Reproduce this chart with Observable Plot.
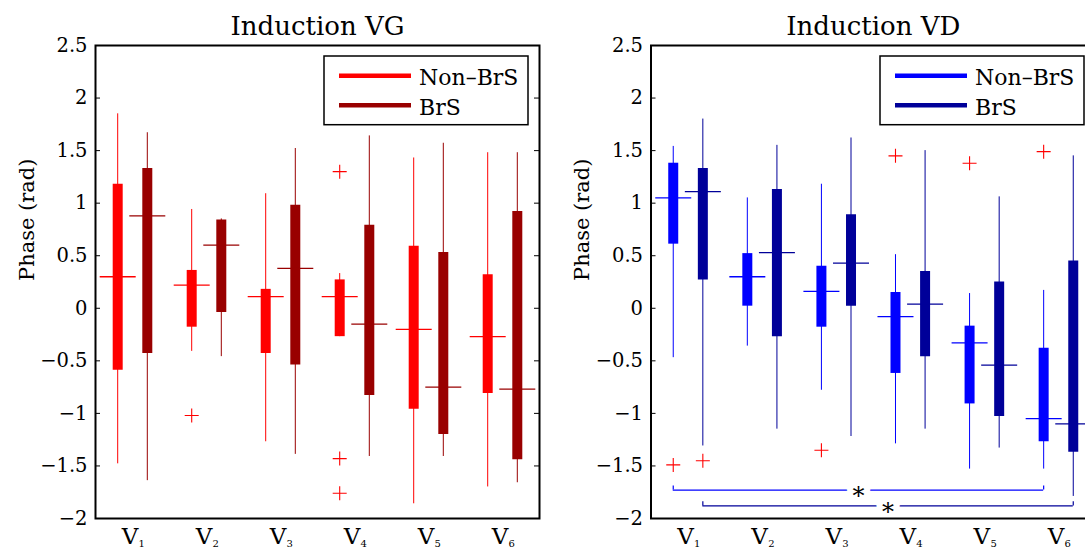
<!DOCTYPE html>
<html>
<head>
<meta charset="utf-8">
<script src="https://cdn.jsdelivr.net/npm/d3@7"></script>
<script src="https://cdn.jsdelivr.net/npm/@observablehq/plot@0.6"></script>
<style>
  html, body { margin: 0; padding: 0; background: #fff; width: 1085px; height: 549px; overflow: hidden; }
  #wrap { position: relative; width: 1085px; height: 549px; overflow: hidden; font-family: "DejaVu Serif", serif; }
  .panel { position: absolute; top: 0; }
  .legend { position: absolute; }
</style>
</head>
<body>
<div id="wrap"></div>
<script>
// ---------- data ----------
const groups = [1, 2, 3, 4, 5, 6];
const groupMain = ["V", "V", "V", "V", "V", "V"];
const groupSub = ["1", "2", "3", "4", "5", "6"];
const yTicks = [-2, -1.5, -1, -0.5, 0, 0.5, 1, 1.5, 2, 2.5];
const seriesNames = ["Non–BrS", "BrS"];
const titles = ["Induction VG", "Induction VD"];
const yLabel = "Phase (rad)";

// Induction VG, Non-BrS
const vgNonLo  = [-1.48, -0.41, -1.27, -0.27, -1.86, -1.70];
const vgNonQ1  = [-0.59, -0.18, -0.43, -0.27, -0.96, -0.81];
const vgNonMed = [ 0.30,  0.22,  0.11,  0.11, -0.20, -0.27];
const vgNonQ3  = [ 1.18,  0.36,  0.18,  0.27,  0.59,  0.32];
const vgNonHi  = [ 1.85,  0.94,  1.09,  0.33,  1.43,  1.48];
const vgNonOutG = [2, 4, 4, 4];
const vgNonOutV = [-1.02, 1.30, -1.43, -1.76];
// Induction VG, BrS
const vgBrsLo  = [-1.64, -0.46, -1.39, -1.41, -1.41, -1.66];
const vgBrsQ1  = [-0.43, -0.04, -0.54, -0.83, -1.20, -1.44];
const vgBrsMed = [ 0.88,  0.60,  0.38, -0.15, -0.75, -0.77];
const vgBrsQ3  = [ 1.33,  0.84,  0.98,  0.79,  0.53,  0.92];
const vgBrsHi  = [ 1.67,  0.85,  1.52,  1.64,  1.57,  1.48];
const vgBrsOutG = [];
const vgBrsOutV = [];

// Induction VD, Non-BrS
const vdNonLo  = [-0.47, -0.36, -0.78, -1.29, -1.53, -1.53];
const vdNonQ1  = [ 0.61,  0.02, -0.18, -0.62, -0.91, -1.27];
const vdNonMed = [ 1.05,  0.30,  0.16, -0.08, -0.33, -1.05];
const vdNonQ3  = [ 1.38,  0.52,  0.40,  0.15, -0.17, -0.38];
const vdNonHi  = [ 1.54,  1.05,  1.18,  0.51,  0.14,  0.17];
const vdNonOutG = [1, 3, 4, 5, 6];
const vdNonOutV = [-1.49, -1.35, 1.45, 1.38, 1.49];
// Induction VD, BrS
const vdBrsLo  = [-1.31, -1.15, -1.22, -1.15, -1.33, -1.79];
const vdBrsQ1  = [ 0.27, -0.27,  0.02, -0.46, -1.03, -1.37];
const vdBrsMed = [ 1.11,  0.53,  0.43,  0.04, -0.54, -1.10];
const vdBrsQ3  = [ 1.33,  1.13,  0.89,  0.35,  0.25,  0.45];
const vdBrsHi  = [ 1.80,  1.55,  1.62,  1.50,  1.06,  1.45];
const vdBrsOutG = [1];
const vdBrsOutV = [-1.45];

// significance brackets (VD only): from group, to group, series index, level
const vdBracketFrom = [1, 1];
const vdBracketTo = [6, 6];
const vdBracketSeries = [0, 1];
const vdBracketY = [-1.73, -1.88];
const bracketText = "*";

// ---------- styles ----------
const vgColors = ["#ff0000", "#990000"];
const vdColors = ["#0000ff", "#000099"];
const outlierColor = "#ff0000";
const OFF = 14.8; // px offset of each series from the group centre
const offsets = [-OFF, OFF];

const rows = (lo, q1, med, q3, hi) => groups.map((g, i) => ({g, lo: lo[i], q1: q1[i], med: med[i], q3: q3[i], hi: hi[i]}));
const outs = (G, V) => G.map((g, i) => ({g, v: V[i]}));

const plusSymbol = {draw(ctx, size) { const r = Math.sqrt(size / Math.PI); ctx.moveTo(-r, 0); ctx.lineTo(r, 0); ctx.moveTo(0, -r); ctx.lineTo(0, r); }};
const hlineSymbol = {draw(ctx, size) { const r = Math.sqrt(size / Math.PI); ctx.moveTo(-r, 0); ctx.lineTo(r, 0); }};
const fmt = d => d < 0 ? "\u2212" + Math.abs(d) : String(d);

function panel({title, colors, boxes, outliers, brackets, width, marginLeft, marginRight}) {
  const fw = width - marginLeft - marginRight;
  const marks = [];
  boxes.forEach((data, s) => {
    marks.push(Plot.ruleX(data, {x: "g", y1: "lo", y2: "hi", stroke: colors[s], strokeWidth: 1, dx: offsets[s]}));
    marks.push(Plot.ruleX(data, {x: "g", y1: "q1", y2: "q3", stroke: colors[s], strokeWidth: 10, dx: offsets[s]}));
    marks.push(Plot.dot(data, {x: "g", y: "med", symbol: hlineSymbol, r: 18, stroke: colors[s], strokeWidth: 1.3, fill: "none", dx: offsets[s]}));
  });
  outliers.forEach((data, s) => {
    marks.push(Plot.dot(data, {x: "g", y: "v", symbol: plusSymbol, r: 7, stroke: outlierColor, strokeWidth: 1.1, fill: "none", dx: offsets[s]}));
  });
  brackets.forEach(b => {
    const c = colors[b.s], dx = offsets[b.s];
    marks.push(Plot.ruleY([b], {y: "y", x1: "from", x2: "to", stroke: c, strokeWidth: 1.2, dx}));
    marks.push(Plot.ruleX([b.from, b.to], {x: d => d, y1: b.y, y2: b.y + 0.04, stroke: c, strokeWidth: 1.2, dx}));
    marks.push(Plot.text([b], {x: d => (d.from + d.to) / 2, y: "y", text: () => bracketText, fontSize: 24, lineAnchor: "bottom", dy: 14, dx, fill: "black", stroke: "white", strokeWidth: 12}));
  });
  // frame + inward ticks
  marks.push(Plot.frame({stroke: "black", strokeWidth: 2}));
  marks.push(Plot.tickY(yTicks.slice(1, -1), {y: d => d, insetRight: fw - 5, stroke: "black", strokeWidth: 1}));
  marks.push(Plot.tickY(yTicks.slice(1, -1), {y: d => d, insetLeft: fw - 5, stroke: "black", strokeWidth: 1}));
  // tick labels
  marks.push(Plot.text(yTicks, {y: d => d, text: fmt, frameAnchor: "left", textAnchor: "end", lineAnchor: "middle", dx: -8, fontSize: 19.5, fill: "black"}));
  marks.push(Plot.text(groups, {x: d => d, text: (d, i) => groupMain[i], frameAnchor: "bottom", lineAnchor: "bottom", dy: 25.5, dx: -2.5, fontSize: 23, fill: "black"}));
  marks.push(Plot.text(groups, {x: d => d, text: (d, i) => groupSub[i], frameAnchor: "bottom", lineAnchor: "bottom", dy: 28, dx: 6, textAnchor: "start", fontSize: 10, fill: "black"}));
  // y label and title
  marks.push(Plot.text([yLabel], {text: d => d, frameAnchor: "left", rotate: -90, lineAnchor: "bottom", dx: -62, dy: -1, fontSize: 21, fill: "black"}));
  marks.push(Plot.text([title], {text: d => d, frameAnchor: "top", lineAnchor: "bottom", dy: -11, fontSize: 26, fill: "black"}));
  return Plot.plot({
    width, height: 549,
    marginLeft, marginRight, marginTop: 45, marginBottom: 31,
    x: {domain: [0.5, 6.5], axis: null},
    y: {domain: [-2, 2.5], axis: null},
    style: {fontFamily: "'DejaVu Serif', serif", background: "transparent", overflow: "visible", color: "black"},
    marks
  });
}

function legend(left, top, colors) {
  const svg = d3.create("svg").attr("class", "legend").attr("width", 206).attr("height", 71)
    .style("left", (left - 1) + "px").style("top", (top - 1) + "px")
    .style("font-family", "'DejaVu Serif', serif");
  svg.append("rect").attr("x", 1).attr("y", 1).attr("width", 204).attr("height", 68.7)
    .attr("fill", "white").attr("stroke", "black").attr("stroke-width", 1.5);
  seriesNames.forEach((name, i) => {
    const cy = 20.7 + i * 29.6;
    svg.append("line").attr("x1", 16).attr("x2", 88).attr("y1", cy).attr("y2", cy)
      .attr("stroke", colors[i]).attr("stroke-width", 4.5);
    svg.append("text").attr("x", 96).attr("y", 30.3 + i * 30).attr("font-size", 22).attr("fill", "black").text(name);
  });
  return svg.node();
}

const wrap = document.getElementById("wrap");
const left = panel({
  title: titles[0], colors: vgColors,
  boxes: [rows(vgNonLo, vgNonQ1, vgNonMed, vgNonQ3, vgNonHi), rows(vgBrsLo, vgBrsQ1, vgBrsMed, vgBrsQ3, vgBrsHi)],
  outliers: [outs(vgNonOutG, vgNonOutV), outs(vgBrsOutG, vgBrsOutV)],
  brackets: [], width: 545, marginLeft: 95, marginRight: 6
});
left.classList.add("panel"); left.style.left = "0px";
wrap.appendChild(left);

const right = panel({
  title: titles[1], colors: vdColors,
  boxes: [rows(vdNonLo, vdNonQ1, vdNonMed, vdNonQ3, vdNonHi), rows(vdBrsLo, vdBrsQ1, vdBrsMed, vdBrsQ3, vdBrsHi)],
  outliers: [outs(vdNonOutG, vdNonOutV), outs(vdBrsOutG, vdBrsOutV)],
  brackets: vdBracketFrom.map((f, i) => ({from: f, to: vdBracketTo[i], s: vdBracketSeries[i], y: vdBracketY[i]})),
  width: 556, marginLeft: 105.5, marginRight: 6
});
right.classList.add("panel"); right.style.left = "545px";
wrap.appendChild(right);

wrap.appendChild(legend(324, 56, vgColors));
wrap.appendChild(legend(880, 56, vdColors));
</script>
</body>
</html>
